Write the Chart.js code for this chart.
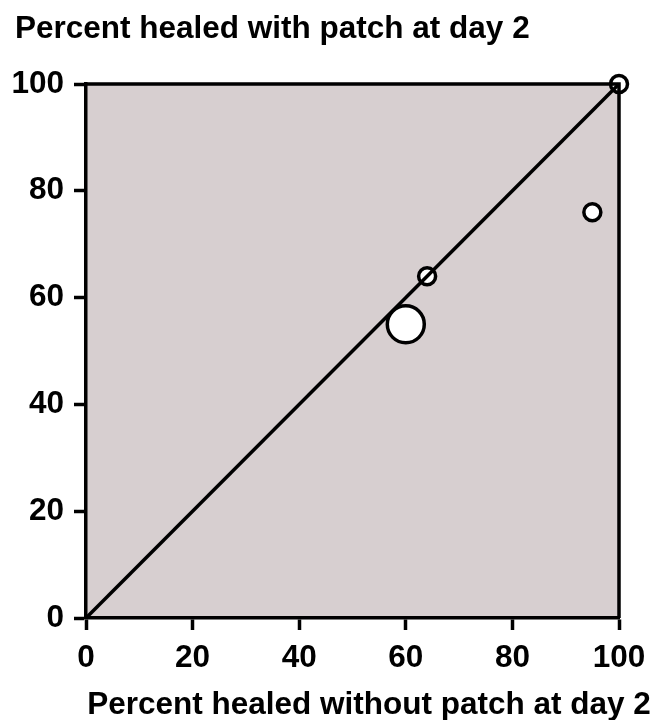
<!DOCTYPE html>
<html>
<head>
<meta charset="utf-8">
<script src="https://cdn.jsdelivr.net/npm/chart.js@4/dist/chart.umd.min.js"></script>
<style>
html,body{margin:0;padding:0;background:#fff;}
canvas{display:block;}
</style>
</head>
<body>
<canvas id="c" width="655" height="720"></canvas>
<script>
// Data
const smallX = [100, 95, 64];
const smallY = [100, 76, 64];
const smallR = [8.5, 8.5, 8.5];
const bigX = [60];
const bigY = [55];
const bigR = [18.5];
const lineX = [0, 100];
const lineY = [0, 100];
const tickValues = [0, 20, 40, 60, 80, 100];
const yTitle = 'Percent healed with patch at day 2';
const xTitle = 'Percent healed without patch at day 2';

const FONT = '"Liberation Sans", Arial, Helvetica, sans-serif';
const FS = 31.5;
const LW = 3.5;
const toPts = (xs, ys, rs) => xs.map((x, i) => rs ? {x, y: ys[i], r: rs[i]} : {x, y: ys[i]});

const decor = {
  id: 'decor',
  beforeDraw(chart) {
    const {ctx, chartArea: a} = chart;
    ctx.save();
    ctx.fillStyle = '#d7cfd0';
    ctx.fillRect(a.left, a.top, a.right - a.left, a.bottom - a.top);
    ctx.restore();
  },
  afterDraw(chart) {
    const {ctx, chartArea: a} = chart;
    ctx.save();
    ctx.strokeStyle = '#000';
    ctx.lineWidth = LW;
    ctx.beginPath();
    ctx.moveTo(a.left, a.top);
    ctx.lineTo(a.right, a.top);
    ctx.lineTo(a.right, a.bottom);
    ctx.stroke();
    ctx.fillStyle = '#000';
    ctx.font = 'bold ' + FS + 'px ' + FONT;
    ctx.textBaseline = 'alphabetic';
    ctx.textAlign = 'left';
    ctx.fillText(yTitle, 15, 38);
    ctx.textAlign = 'center';
    ctx.fillText(xTitle, 369, 714);
    ctx.restore();
  }
};

function axis(pad) {
  return {
    type: 'linear',
    min: 0,
    max: 100,
    ticks: {
      stepSize: 20,
      color: '#000',
      font: {family: FONT, size: FS, weight: 'bold'},
      padding: pad
    },
    afterBuildTicks(scale) { scale.ticks = tickValues.map(v => ({value: v})); },
    grid: {
      display: true,
      drawOnChartArea: false,
      drawTicks: true,
      tickLength: 12,
      tickWidth: LW,
      tickColor: '#000'
    },
    border: {display: true, color: '#000', width: LW}
  };
}

new Chart(document.getElementById('c'), {
  type: 'bubble',
  data: {
    datasets: [
      {
        type: 'bubble',
        data: toPts(smallX, smallY, smallR),
        backgroundColor: '#fff',
        borderColor: '#000',
        borderWidth: LW,
        clip: false,
        order: 3
      },
      {
        type: 'line',
        data: toPts(lineX, lineY),
        borderColor: '#000',
        borderWidth: LW,
        pointRadius: 0,
        fill: false,
        clip: false,
        order: 2
      },
      {
        type: 'bubble',
        data: toPts(bigX, bigY, bigR),
        backgroundColor: '#fff',
        borderColor: '#000',
        borderWidth: LW,
        clip: false,
        order: 1
      }
    ]
  },
  options: {
    responsive: false,
    animation: false,
    devicePixelRatio: 1,
    layout: {padding: {top: 84, right: 36, left: 0, bottom: 0}},
    plugins: {legend: {display: false}, tooltip: {enabled: false}, title: {display: false}},
    scales: {
      x: Object.assign(axis(9), {
        position: 'bottom',
        afterFit(scale) { scale.height = 102; }
      }),
      y: Object.assign(axis(10), {
        position: 'left',
        afterFit(scale) { scale.width = 86; }
      })
    }
  },
  plugins: [decor]
});
</script>
</body>
</html>
